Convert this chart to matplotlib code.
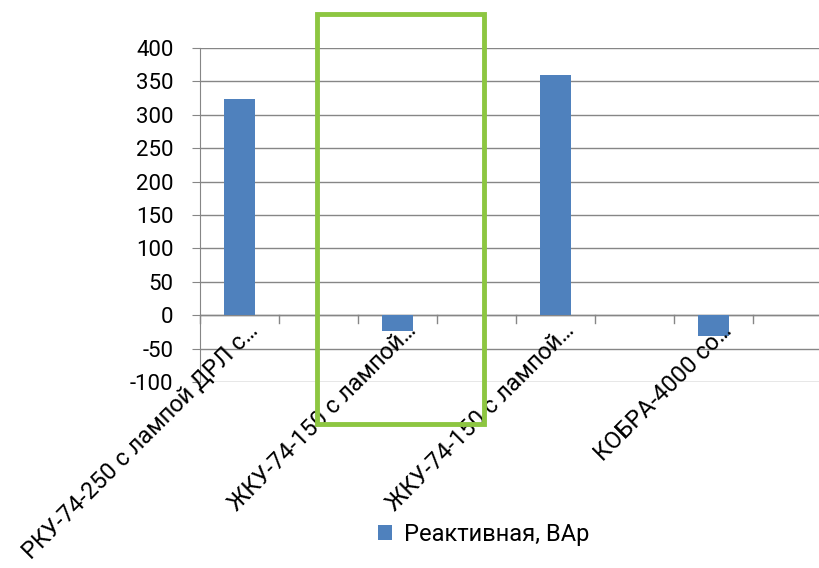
import matplotlib.pyplot as plt
import matplotlib.patches as mpatches
import matplotlib.transforms as mtransforms
import numpy as np

# Data (every other category label is hidden, as in the original Excel chart)
categories = ["РКУ-74-250 с лампой ДРЛ с…", "", "ЖКУ-74-150 с лампой…", "",
              "ЖКУ-74-150 с лампой…", "", "КОБРА-4000 со…", ""]
reactive = [323, np.nan, -24, np.nan, 359, np.nan, -31, np.nan]
series_name = "Реактивная, ВАр"
y_ticks = [-100, -50, 0, 50, 100, 150, 200, 250, 300, 350, 400]

plt.rcParams['font.family'] = ['Roboto', 'DejaVu Sans']
plt.rcParams['axes.unicode_minus'] = False

fig = plt.figure(figsize=(8.19, 5.68), dpi=100)
ax = fig.add_axes([200 / 819, 1 - 382 / 568, 632 / 819, (382 - 48) / 568])

x = np.arange(len(categories))
ax.bar(x, reactive, width=0.4, color='#4F81BD', label=series_name, zorder=3)

ax.set_xlim(-0.5, len(categories) - 0.5)
ax.set_ylim(-100, 400)
ax.set_yticks(y_ticks)
ax.tick_params(axis='y', labelsize=16, length=6, color='#868686', pad=13)
ax.yaxis.grid(True, color='#868686', linewidth=1)
ax.set_axisbelow(True)

for s in ['top', 'right', 'bottom']:
    ax.spines[s].set_visible(False)
ax.spines['left'].set_color('#868686')
ax.axhline(0, color='#868686', linewidth=1, zorder=2)

# tick marks at category boundaries on the zero line
ax.set_xticks([])
for b in np.arange(len(categories) + 1) - 0.5:
    ax.plot([b, b], [0, -12], color='#868686', linewidth=1, clip_on=False, zorder=2)

# category labels hang from the zero line, rotated like Excel
offset = mtransforms.ScaledTranslation(7 / 100, -4 / 100, fig.dpi_scale_trans)
for xi, name in zip(x, categories):
    if name:
        ax.text(xi, 0, name, rotation=45, ha='right', va='top', rotation_mode='anchor',
                fontsize=17, transform=ax.transData + offset, clip_on=False)

fig.legend(loc='center', bbox_to_anchor=(484 / 819, 1 - 534 / 568), frameon=False,
           fontsize=17, handlelength=0.6, handleheight=0.6, handletextpad=0.5)

# green highlight frame
fig.patches.append(mpatches.Rectangle((317 / 819, 1 - 424 / 568), (484 - 317) / 819, (424 - 14) / 568,
                                      transform=fig.transFigure, fill=False,
                                      edgecolor='#8DC641', linewidth=3.5, zorder=10))

plt.savefig('out.png', dpi=100)
